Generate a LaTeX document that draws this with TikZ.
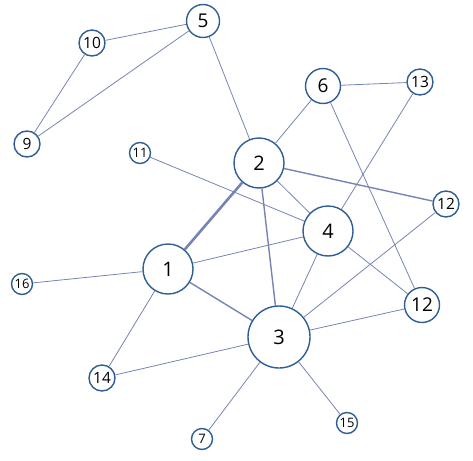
\documentclass[tikz,border=0pt]{standalone}
\usepackage{fontspec}
\setmainfont{Open Sans}
\usepackage{tikz}
\usetikzlibrary{positioning,calc}
\definecolor{ringblue}{HTML}{2F5E94}
\definecolor{linkgray}{HTML}{7584B4}
\tikzset{
  vtx/.style={circle,draw=ringblue,line width=1.4pt,fill=white,inner sep=0pt},
  tiny/.style={vtx,minimum size=21pt,font=\fontsize{13}{13}\selectfont},
  small/.style={vtx,minimum size=26pt,font=\fontsize{15.5}{15.5}\selectfont},
  mid/.style={vtx,minimum size=35pt,font=\fontsize{19}{19}\selectfont},
  big/.style={vtx,minimum size=50pt,font=\fontsize{20}{20}\selectfont},
  huge/.style={vtx,minimum size=62pt,font=\fontsize{20}{20}\selectfont},
}

\begin{document}
\begin{tikzpicture}[
  x=1pt,y=-1pt,
  link/.style={draw=linkgray,line width=0.8pt},
  strong/.style={draw=linkgray,line width=1.4pt},
  heavy/.style={draw=linkgray,line width=2.6pt}
]
\useasboundingbox (0,0) rectangle (473,460);

\node[mid,minimum size=33pt] (n5) at (203,21) {5};
\node[small] (n10) at (92,43) {10};
\node[small] (n9) at (27,144) {9};
\node[tiny] (n11) at (140,153) {11};
\node[mid] (n6) at (323,86) {6};
\node[small] (n13) at (420,82) {13};
\node[big] (n2) at (259,163) {2};
\node[small] (n12a) at (446,204) {12};
\node[big] (n4) at (328,231) {4};
\node[big] (n1) at (168,269) {1};
\node[tiny] (n16) at (22,284) {16};
\node[mid] (n12b) at (422,305) {12};
\node[huge] (n3) at (279,337) {3};
\node[small] (n14) at (102,378) {14};
\node[tiny] (n7) at (202,439) {7};
\node[tiny] (n15) at (347,423) {15};

\path[link]
(n10) edge (n5)
(n10) edge (n9)
(n9) edge (n5)
(n5) edge (n2)
(n6) edge (n2)
(n6) edge (n13)
(n6) edge (n12b)
(n13) edge (n4)
(n11) edge (n4)
(n2) edge (n4)
(n4) edge (n1)
(n4) edge (n3)
(n4) edge (n12b)
(n1) edge (n16)
(n1) edge (n14)
(n3) edge (n14)
(n3) edge (n7)
(n3) edge (n15)
(n3) edge (n12b)
(n3) edge (n12a);

\path[strong]
(n2) edge (n12a)
(n2) edge (n3)
(n1) edge (n3);

\draw[heavy] (n2) -- (n1);

\end{tikzpicture}
\end{document}
